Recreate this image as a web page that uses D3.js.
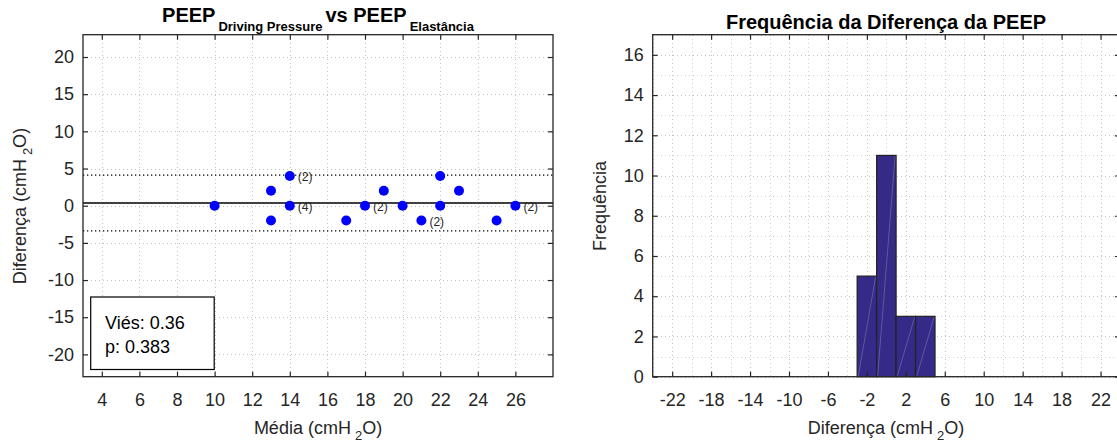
<!DOCTYPE html>
<html><head><meta charset="utf-8">
<script src="https://cdn.jsdelivr.net/npm/d3@7"></script>
<style>
body{margin:0;background:#fff;overflow:hidden;}
svg{display:block;font-family:"Liberation Sans",Arial,Helvetica,sans-serif;}
</style></head><body>
<svg id="chart" width="1117" height="444"></svg>
<script>
// Bland–Altman: mean of the two PEEP estimates vs their difference
const meanValues  = [10, 13, 13, 14, 14, 17, 18, 19, 20, 21, 22, 22, 23, 25, 26];
const diffValues  = [0, 2, -2, 4, 0, -2, 0, 2, 0, -2, 4, 0, 2, -2, 0];
const pointCounts = [1, 1, 1, 2, 4, 1, 2, 1, 1, 2, 1, 1, 1, 1, 2];
const bias = 0.36;
const loaUpper = 4.12;
const loaLower = -3.39;
const pValue = 0.383;

// Histogram of the differences (bin centres and counts)
const binCenters = [-22, -20, -18, -16, -14, -12, -10, -8, -6, -4, -2, 0, 2, 4, 6, 8, 10, 12, 14, 16, 18, 20, 22];
const binCounts  = [0, 0, 0, 0, 0, 0, 0, 0, 0, 0, 5, 11, 3, 3, 0, 0, 0, 0, 0, 0, 0, 0, 0];
const binWidth = 2;

// Tick values
const leftXTicks  = [4, 6, 8, 10, 12, 14, 16, 18, 20, 22, 24, 26];
const leftYTicks  = [-20, -15, -10, -5, 0, 5, 10, 15, 20];
const rightXTicks = [-22, -18, -14, -10, -6, -2, 2, 6, 10, 14, 18, 22];
const rightXMinor = [-24, -20, -16, -12, -8, -4, 0, 4, 8, 12, 16, 20, 24];
const rightYTicks = [0, 2, 4, 6, 8, 10, 12, 14, 16];
const rightYMinor = [1, 3, 5, 7, 9, 11, 13, 15, 17];

const svg = d3.select("#chart");
const AX = "#262626";
const GRID = "#c4c4c4";
const TICK_FONT = 18;
const plain = d => String(d);   // hyphen-minus for negatives

const plotTop = 34.7, plotBottom = 376.7;
const xL = d3.scaleLinear([3, 28], [83, 553]);
const yL = d3.scaleLinear([-23, 23], [plotBottom, plotTop]);
const xR = d3.scaleLinear([-24, 24], [652.7, 1120]);
const yR = d3.scaleLinear([0, 17], [plotBottom, plotTop]);

function grid(g, x, y, xs, ys, opacity) {
  g.selectAll(null).data(xs).join("line")
    .attr("x1", d => Math.round(x(d)) + 0.5).attr("x2", d => Math.round(x(d)) + 0.5)
    .attr("y1", y.range()[1]).attr("y2", y.range()[0])
    .attr("stroke", GRID).attr("stroke-dasharray", "1,3").attr("opacity", opacity)
    .attr("shape-rendering", "crispEdges");
  g.selectAll(null).data(ys).join("line")
    .attr("y1", d => Math.round(y(d)) + 0.5).attr("y2", d => Math.round(y(d)) + 0.5)
    .attr("x1", x.range()[0]).attr("x2", x.range()[1])
    .attr("stroke", GRID).attr("stroke-dasharray", "1,3").attr("opacity", opacity)
    .attr("shape-rendering", "crispEdges");
}

function frame(g, x, y, xt, yt) {
  const [x0, x1] = x.range();
  const [y1, y0] = y.range();
  const style = sel => {
    sel.select(".domain").remove();
    sel.selectAll(".tick line").attr("stroke", AX).attr("stroke-width", 1.2);
    sel.selectAll(".tick text").attr("fill", AX).attr("font-size", TICK_FONT)
      .attr("font-family", "Liberation Sans, Arial, sans-serif");
  };
  g.append("g").attr("transform", `translate(0,${y1})`)
    .call(d3.axisBottom(x).tickValues(xt).tickSizeInner(-5).tickSizeOuter(0).tickPadding(17).tickFormat(plain))
    .call(style);
  g.append("g").attr("transform", `translate(0,${y0})`)
    .call(d3.axisTop(x).tickValues(xt).tickSizeInner(-5).tickSizeOuter(0).tickFormat(""))
    .call(style);
  g.append("g").attr("transform", `translate(${x0},0)`)
    .call(d3.axisLeft(y).tickValues(yt).tickSizeInner(-5).tickSizeOuter(0).tickPadding(9).tickFormat(plain))
    .call(style);
  g.append("g").attr("transform", `translate(${x1},0)`)
    .call(d3.axisRight(y).tickValues(yt).tickSizeInner(-5).tickSizeOuter(0).tickFormat(""))
    .call(style);
  g.append("rect").attr("x", x0).attr("y", y0).attr("width", x1 - x0).attr("height", y1 - y0)
    .attr("fill", "none").attr("stroke", AX).attr("stroke-width", 1.3);
}

// ---------- Left panel: Bland–Altman ----------
const gL = svg.append("g");
grid(gL, xL, yL, leftXTicks, leftYTicks, 1);

gL.append("line").attr("x1", xL(3)).attr("x2", xL(28))
  .attr("y1", yL(bias)).attr("y2", yL(bias)).attr("stroke", "#000").attr("stroke-width", 1.3);
[loaUpper, loaLower].forEach(v => {
  gL.append("line").attr("x1", xL(3)).attr("x2", xL(28))
    .attr("y1", yL(v)).attr("y2", yL(v)).attr("stroke", "#000").attr("stroke-width", 1.3)
    .attr("stroke-dasharray", "1.3,2.7");
});

const pts = meanValues.map((m, i) => ({ m, d: diffValues[i], n: pointCounts[i] }));
gL.selectAll("circle.pt").data(pts).join("circle").attr("class", "pt")
  .attr("cx", p => xL(p.m)).attr("cy", p => yL(p.d)).attr("r", 5).attr("fill", "#0000ff");
gL.selectAll("text.cnt").data(pts.filter(p => p.n > 1)).join("text").attr("class", "cnt")
  .attr("x", p => xL(p.m) + 8).attr("y", p => yL(p.d) + 5)
  .attr("font-size", 12).attr("fill", AX).text(p => `(${p.n})`);

// statistics box
gL.append("rect").attr("x", 90.7).attr("y", 297).attr("width", 123.5).attr("height", 72.5)
  .attr("fill", "#fff").attr("stroke", "#000").attr("stroke-width", 1.2);
gL.append("text").attr("x", 105).attr("y", 329).attr("font-size", 18).attr("fill", "#000")
  .text(`Viés: ${bias}`);
gL.append("text").attr("x", 105).attr("y", 353).attr("font-size", 18).attr("fill", "#000")
  .text(`p: ${pValue}`);

frame(gL, xL, yL, leftXTicks, leftYTicks);

// title with subscripts
const tL = gL.append("text").attr("x", 318).attr("y", 22).attr("text-anchor", "middle")
  .attr("font-weight", "bold").attr("font-size", 20).attr("fill", "#000");
tL.append("tspan").text("PEEP");
tL.append("tspan").attr("font-size", 13).attr("dx", 3).attr("dy", 9).text("Driving Pressure");
tL.append("tspan").attr("dx", 3).attr("dy", -9).text("vs PEEP");
tL.append("tspan").attr("font-size", 13).attr("dx", 3).attr("dy", 9).text("Elastância");

// axis labels
function unitLabel(sel, prefix) {
  sel.append("tspan").text(prefix + " (cmH");
  sel.append("tspan").attr("font-size", 13).attr("dx", 4).attr("dy", 6).text("2");
  sel.append("tspan").attr("dy", -6).text("O)");
}
gL.append("text").attr("x", 318).attr("y", 434).attr("text-anchor", "middle")
  .attr("font-size", 18).attr("fill", AX).call(unitLabel, "Média");
gL.append("text").attr("transform", "translate(26,206) rotate(-90)").attr("text-anchor", "middle")
  .attr("font-size", 18).attr("fill", AX).call(unitLabel, "Diferença");

// ---------- Right panel: histogram ----------
const gR = svg.append("g");
grid(gR, xR, yR, rightXMinor, rightYMinor, 0.75);
grid(gR, xR, yR, rightXTicks, rightYTicks, 1);

const bins = binCenters.map((c, i) => ({ c, n: binCounts[i] }));
gR.selectAll("rect.bar").data(bins).join("rect").attr("class", "bar")
  .attr("x", b => xR(b.c - binWidth / 2)).attr("width", b => xR(b.c + binWidth / 2) - xR(b.c - binWidth / 2))
  .attr("y", b => yR(b.n)).attr("height", b => yR(0) - yR(b.n))
  .attr("fill", "#352a87").attr("stroke", "#222").attr("stroke-width", 1.2);
gR.selectAll("line.seam").data(bins.filter(b => b.n > 0)).join("line").attr("class", "seam")
  .attr("x1", b => xR(b.c - binWidth / 2) + 1).attr("y1", yR(0))
  .attr("x2", b => xR(b.c + binWidth / 2) - 1).attr("y2", b => yR(b.n) + 1)
  .attr("stroke", "#8f8ac4").attr("stroke-width", 0.6).attr("opacity", 0.8);

frame(gR, xR, yR, rightXTicks, rightYTicks);

gR.append("text").attr("x", 886).attr("y", 28.5).attr("text-anchor", "middle")
  .attr("font-weight", "bold").attr("font-size", 20).attr("fill", "#000")
  .text("Frequência da Diferença da PEEP");
gR.append("text").attr("x", 886).attr("y", 434).attr("text-anchor", "middle")
  .attr("font-size", 18).attr("fill", AX).call(unitLabel, "Diferença");
gR.append("text").attr("transform", "translate(606,206) rotate(-90)").attr("text-anchor", "middle")
  .attr("font-size", 18).attr("fill", AX).text("Frequência");
</script>
</body></html>
